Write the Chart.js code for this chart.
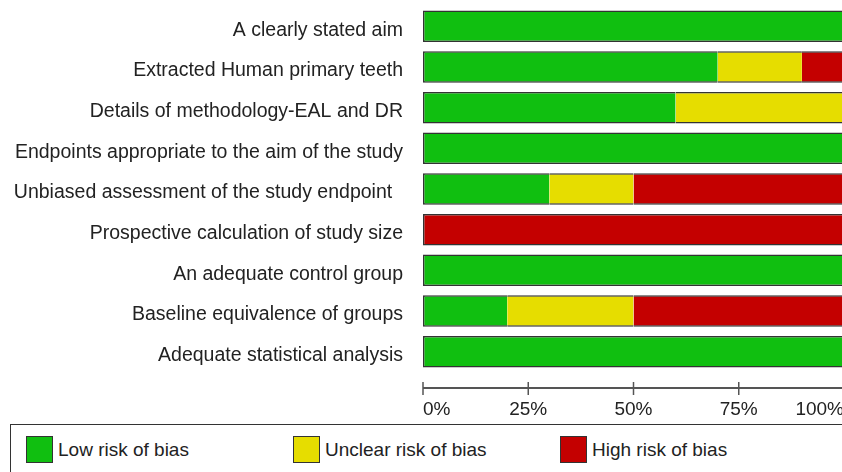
<!DOCTYPE html>
<html>
<head>
<meta charset="utf-8">
<script src="https://cdn.jsdelivr.net/npm/chart.js@4.4.0/dist/chart.umd.min.js"></script>
<style>
  html, body { margin: 0; padding: 0; background: #fff; overflow: hidden; }
  #wrap { position: relative; width: 842px; height: 472px; overflow: hidden; }
  #chart { position: absolute; left: 0; top: 0; }
  #legend {
    position: absolute; left: 10px; top: 424px; width: 860px; height: 60px;
    border: 1.5px solid #333; box-sizing: border-box;
    font-family: "Liberation Sans", Arial, sans-serif; font-size: 19px; color: #222;
  }
  .item { position: absolute; top: 11px; height: 27px; line-height: 27px; }
  .item span.sw { position: absolute; left: 0; top: 0; width: 25px; height: 25px; border: 1px solid #333; }
  .item span.tx { position: absolute; left: 32px; top: 0; white-space: nowrap; }
</style>
</head>
<body>
<div id="wrap">
  <canvas id="chart" width="862" height="424"></canvas>
  <div id="legend"></div>
</div>
<script>
var categories = [
    'A clearly stated aim',
    'Extracted Human primary teeth',
    'Details of methodology-EAL and DR',
    'Endpoints appropriate to the aim of the study',
    'Unbiased assessment of the study endpoint  ',
    'Prospective calculation of study size',
    'An adequate control group',
    'Baseline equivalence of groups',
    'Adequate statistical analysis'
];
var series_names = ['Low risk of bias', 'Unclear risk of bias', 'High risk of bias'];
var series_colors = ['#10bf10', '#e6dd00', '#c40000'];
var low_risk     = [100, 70, 60, 100, 30,   0, 100, 20, 100];
var unclear_risk = [  0, 20, 40,   0, 20,   0,   0, 30,   0];
var high_risk    = [  0, 10,  0,   0, 50, 100,   0, 50,   0];
var x_ticks = [0, 25, 50, 75, 100];

var all_series = [low_risk, unclear_risk, high_risk];

// outline only the outer edges of each stacked bar
function segBorder(ctx) {
    var ds = ctx.datasetIndex, i = ctx.dataIndex;
    var v = all_series[ds][i];
    if (!v) return 0;
    var before = 0, after = 0;
    for (var k = 0; k < all_series.length; k++) {
        if (k < ds) before += all_series[k][i];
        if (k > ds) after += all_series[k][i];
    }
    return { top: 1.5, bottom: 1.5, left: before === 0 ? 1.5 : 0, right: after === 0 ? 1.5 : 0 };
}

// axis line with ticks crossing it, drawn a little below the bars
var axisPlugin = {
    id: 'axisLine',
    afterDraw: function(chart) {
        var c = chart.ctx, xs = chart.scales.x;
        var y = chart.chartArea.bottom + 16;
        c.save();
        c.strokeStyle = '#555';
        c.lineWidth = 2;
        c.beginPath();
        c.moveTo(xs.getPixelForValue(0), y);
        c.lineTo(xs.getPixelForValue(100), y);
        c.stroke();
        c.lineWidth = 1.5;
        x_ticks.forEach(function(t) {
            var px = xs.getPixelForValue(t);
            c.beginPath();
            c.moveTo(px, y - 6);
            c.lineTo(px, y + 7);
            c.stroke();
        });
        c.restore();
    }
};

var datasets = [];
for (var s = 0; s < all_series.length; s++) {
    datasets.push({
        label: series_names[s],
        data: all_series[s],
        backgroundColor: series_colors[s],
        borderColor: '#333',
        borderWidth: segBorder,
        borderSkipped: false,
        barPercentage: 0.775,
        categoryPercentage: 1.0
    });
}

Chart.defaults.font.family = '"Liberation Sans", Arial, sans-serif';
Chart.defaults.color = '#222';

var myChart = new Chart(document.getElementById('chart').getContext('2d'), {
    type: 'bar',
    data: { labels: categories, datasets: datasets },
    options: {
        indexAxis: 'y',
        responsive: false,
        animation: false,
        layout: { padding: { top: 6, right: 18, left: 0, bottom: 0 } },
        plugins: { legend: { display: false }, tooltip: { enabled: false } },
        scales: {
            x: {
                stacked: true,
                min: 0, max: 100,
                afterBuildTicks: function(scale) {
                    scale.ticks = x_ticks.map(function(v) { return { value: v }; });
                },
                afterFit: function(scale) {
                    scale.height = 52;
                    scale.paddingLeft = 0;
                    scale.paddingRight = 0;
                },
                grid: { display: false, drawTicks: false },
                border: { display: false },
                ticks: {
                    align: 'inner',
                    padding: 26,
                    font: { size: 19 },
                    color: '#222',
                    callback: function(v) { return v + '%'; }
                }
            },
            y: {
                stacked: true,
                afterFit: function(scale) {
                    scale.width = 423;
                    scale.paddingTop = 0;
                    scale.paddingBottom = 0;
                },
                grid: { display: false, drawTicks: false },
                border: { display: false },
                ticks: { padding: 20, labelOffset: 4, font: { size: 19.5 }, color: '#222' }
            }
        }
    },
    plugins: [axisPlugin]
});

// legend in a framed box, one column per series
var legendEl = document.getElementById('legend');
for (var j = 0; j < series_names.length; j++) {
    var it = document.createElement('div');
    it.className = 'item';
    it.style.left = (15 + j * 267) + 'px';
    it.innerHTML = '<span class="sw" style="background:' + series_colors[j] + '"></span><span class="tx">' + series_names[j] + '</span>';
    legendEl.appendChild(it);
}
</script>
</body>
</html>
